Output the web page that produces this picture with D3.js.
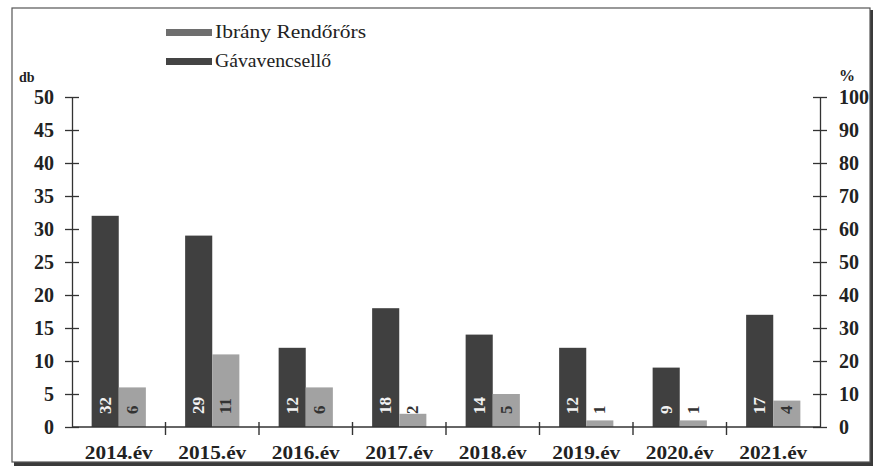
<!DOCTYPE html>
<html><head><meta charset="utf-8">
<script src="https://cdn.jsdelivr.net/npm/d3@7"></script>
<style>body{margin:0;background:#fff}svg{display:block}</style>
</head><body>
<svg id="c" width="879" height="472"></svg>
<script>
const categories = ["2014.év","2015.év","2016.év","2017.év","2018.év","2019.év","2020.év","2021.év"];
const seriesNames = ["Ibrány Rendőrőrs","Gávavencsellő"];
const ibrany = [32,29,12,18,14,12,9,17];
const gava = [6,11,6,2,5,1,1,4];
const leftTicks = [0,5,10,15,20,25,30,35,40,45,50];
const rightTicks = [0,10,20,30,40,50,60,70,80,90,100];

const svg = d3.select("#c");
const font = "Liberation Serif, Times New Roman, serif";
const m = {l:72, r:820, t:97, b:427};

// frame with shadow
svg.append("rect").attr("x",14).attr("y",10).attr("width",859).attr("height",456).attr("fill","#3a3a3a");
svg.append("rect").attr("x",12).attr("y",8).attr("width",858).attr("height",454).attr("fill","#fff").attr("stroke","#555").attr("stroke-width",1.2);

const x0 = d3.scaleBand().domain(categories).range([m.l, m.r]).paddingInner(0.42).paddingOuter(0.21);
const x1 = d3.scaleBand().domain([0,1]).range([0, x0.bandwidth()]);
const yL = d3.scaleLinear().domain([0,50]).range([m.b, m.t]);
const yR = d3.scaleLinear().domain([0,100]).range([m.b, m.t]);
const colors = ["#404040","#a2a2a2"];
const swatch = ["#6e6e6e","#444"];

const data = categories.map((c,i)=>({c, v:[ibrany[i], gava[i]]}));

// bars
const g = svg.append("g");
data.forEach(d=>{
  d.v.forEach((v,j)=>{
    g.append("rect")
      .attr("x", x0(d.c)+x1(j)).attr("width", x1.bandwidth())
      .attr("y", yL(v)).attr("height", yL(0)-yL(v))
      .attr("fill", colors[j]);
  });
});

// axes
function styleAxis(ax){
  ax.select(".domain").attr("stroke","#333").attr("stroke-width",1.3);
  ax.selectAll("text").attr("font-family",font).attr("font-size",20).attr("font-weight","bold").attr("fill","#222");
  ax.selectAll(".tick").append("line").attr("x1",-7).attr("x2",7).attr("stroke","#333").attr("stroke-width",1.3);
}
const axL = svg.append("g").attr("transform",`translate(${m.l},0)`)
  .call(d3.axisLeft(yL).tickValues(leftTicks).tickSize(0).tickPadding(18));
styleAxis(axL);
const axR = svg.append("g").attr("transform",`translate(${m.r},0)`)
  .call(d3.axisRight(yR).tickValues(rightTicks).tickSize(0).tickPadding(19));
styleAxis(axR);

// x axis
const xb = d3.scaleBand().domain(categories).range([m.l, m.r]);
svg.append("line").attr("x1",m.l).attr("x2",m.r).attr("y1",m.b).attr("y2",m.b).attr("stroke","#333").attr("stroke-width",1.6);
categories.slice(1).forEach(c=>{
  svg.append("line").attr("x1",xb(c)).attr("x2",xb(c)).attr("y1",m.b-5).attr("y2",m.b+8).attr("stroke","#333").attr("stroke-width",1.4);
});
svg.selectAll(".cat").data(categories).enter().append("text")
  .attr("x", c=>xb(c)+xb.bandwidth()/2-34).attr("y", 459)
  .attr("textLength",68).attr("lengthAdjust","spacingAndGlyphs")
  .attr("font-family",font).attr("font-size",19).attr("font-weight","bold").attr("fill","#222")
  .text(c=>c);

// bar labels
data.forEach(d=>{
  d.v.forEach((v,j)=>{
    const cx = x0(d.c)+x1(j)+x1.bandwidth()/2;
    const inside = (yL(0)-yL(v)) > 20;
    svg.append("text")
      .attr("transform",`translate(${cx},${yL(0)-13}) rotate(-90)`)
      .attr("text-anchor","start").attr("dominant-baseline","central")
      .attr("font-family",font).attr("font-size",17).attr("font-weight","bold")
      .attr("fill", (j===0 && inside) ? "#f2f2f2" : "#333")
      .text(v);
  });
});

// unit labels
svg.append("text").attr("x",19).attr("y",82).attr("font-family",font).attr("font-size",14).attr("font-weight","bold").attr("fill","#222").text("db");
svg.append("text").attr("x",839).attr("y",81).attr("font-family",font).attr("font-size",16).attr("font-weight","bold").attr("fill","#222").text("%");

// legend
const legLen = [151,116];
seriesNames.forEach((n,i)=>{
  const ly = 32 + i*29;
  svg.append("rect").attr("x",166).attr("y",ly-3).attr("width",46).attr("height",7).attr("fill",swatch[i]);
  svg.append("text").attr("x",215).attr("y",ly).attr("dominant-baseline","central")
    .attr("textLength",legLen[i]).attr("lengthAdjust","spacingAndGlyphs")
    .attr("font-family",font).attr("font-size",18).attr("fill","#222").text(n);
});
</script>
</body></html>
